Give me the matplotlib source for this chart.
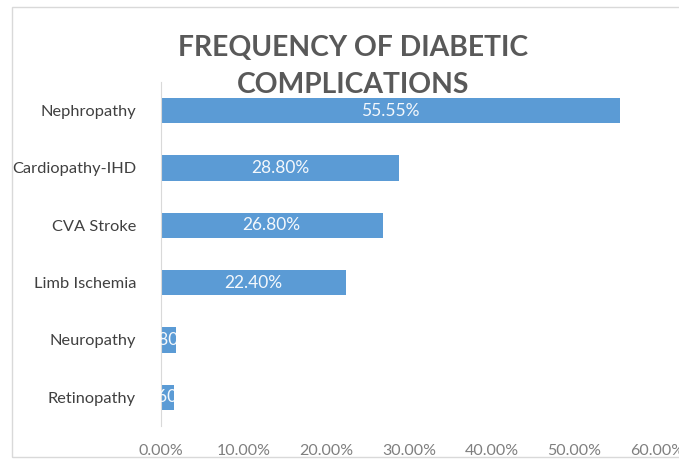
import matplotlib
matplotlib.use("Agg")
import matplotlib.pyplot as plt
from matplotlib.patches import Rectangle

categories = ["Nephropathy", "Cardiopathy-IHD", "CVA Stroke", "Limb Ischemia", "Neuropathy", "Retinopathy"]
values = [55.55, 28.80, 26.80, 22.40, 1.80, 1.60]
labels = ["55.55%", "28.80%", "26.80%", "22.40%", "1.80%", "1.60%"]
xticks = [0, 10, 20, 30, 40, 50, 60]
xticklabels = ["0.00%", "10.00%", "20.00%", "30.00%", "40.00%", "50.00%", "60.00%"]

plt.rcParams['font.family'] = ['Lato', 'DejaVu Sans']

fig = plt.figure(figsize=(6.79, 4.62), dpi=100)
fig.patches.append(Rectangle((12/679, 1-457/462), 1.0, (457-7)/462, transform=fig.transFigure,
                             fill=False, edgecolor="#D9D9D9", linewidth=1.0))
ax = fig.add_axes([161/679, 1-426/462, 496/679, 344/462])

y = list(range(len(categories)))
bars = ax.barh(y, values, height=0.44, color="#5B9BD5", edgecolor="none")
ax.set_ylim(len(categories)-0.5, -0.5)
ax.set_xlim(0, 60)
ax.set_yticks(y)
ax.set_yticklabels(categories, fontsize=11.8, color="#404040")
ax.set_xticks(xticks)
ax.set_xticklabels(xticklabels, fontsize=11.5, color="#7F7F7F")
ax.tick_params(length=0, axis='y', pad=18)
ax.tick_params(length=0, axis='x', pad=13)
for s in ["top", "right", "bottom"]:
    ax.spines[s].set_visible(False)
ax.spines["left"].set_color("#D9D9D9")

for b, lab in zip(bars, labels):
    t = ax.text(b.get_x() + b.get_width()/2, b.get_y() + b.get_height()/2, lab,
                ha="center", va="center", color="#F4F8FC", fontsize=12.5, clip_on=True)
    t.set_clip_path(b)

fig.text(353/679, 1-48/462, "FREQUENCY OF DIABETIC", ha="center", va="center",
         fontsize=20.3, fontweight="bold", color="#595959")
fig.text(353/679, 1-85/462, "COMPLICATIONS", ha="center", va="center",
         fontsize=20.3, fontweight="bold", color="#595959")

fig.savefig("out.png", dpi=100)
